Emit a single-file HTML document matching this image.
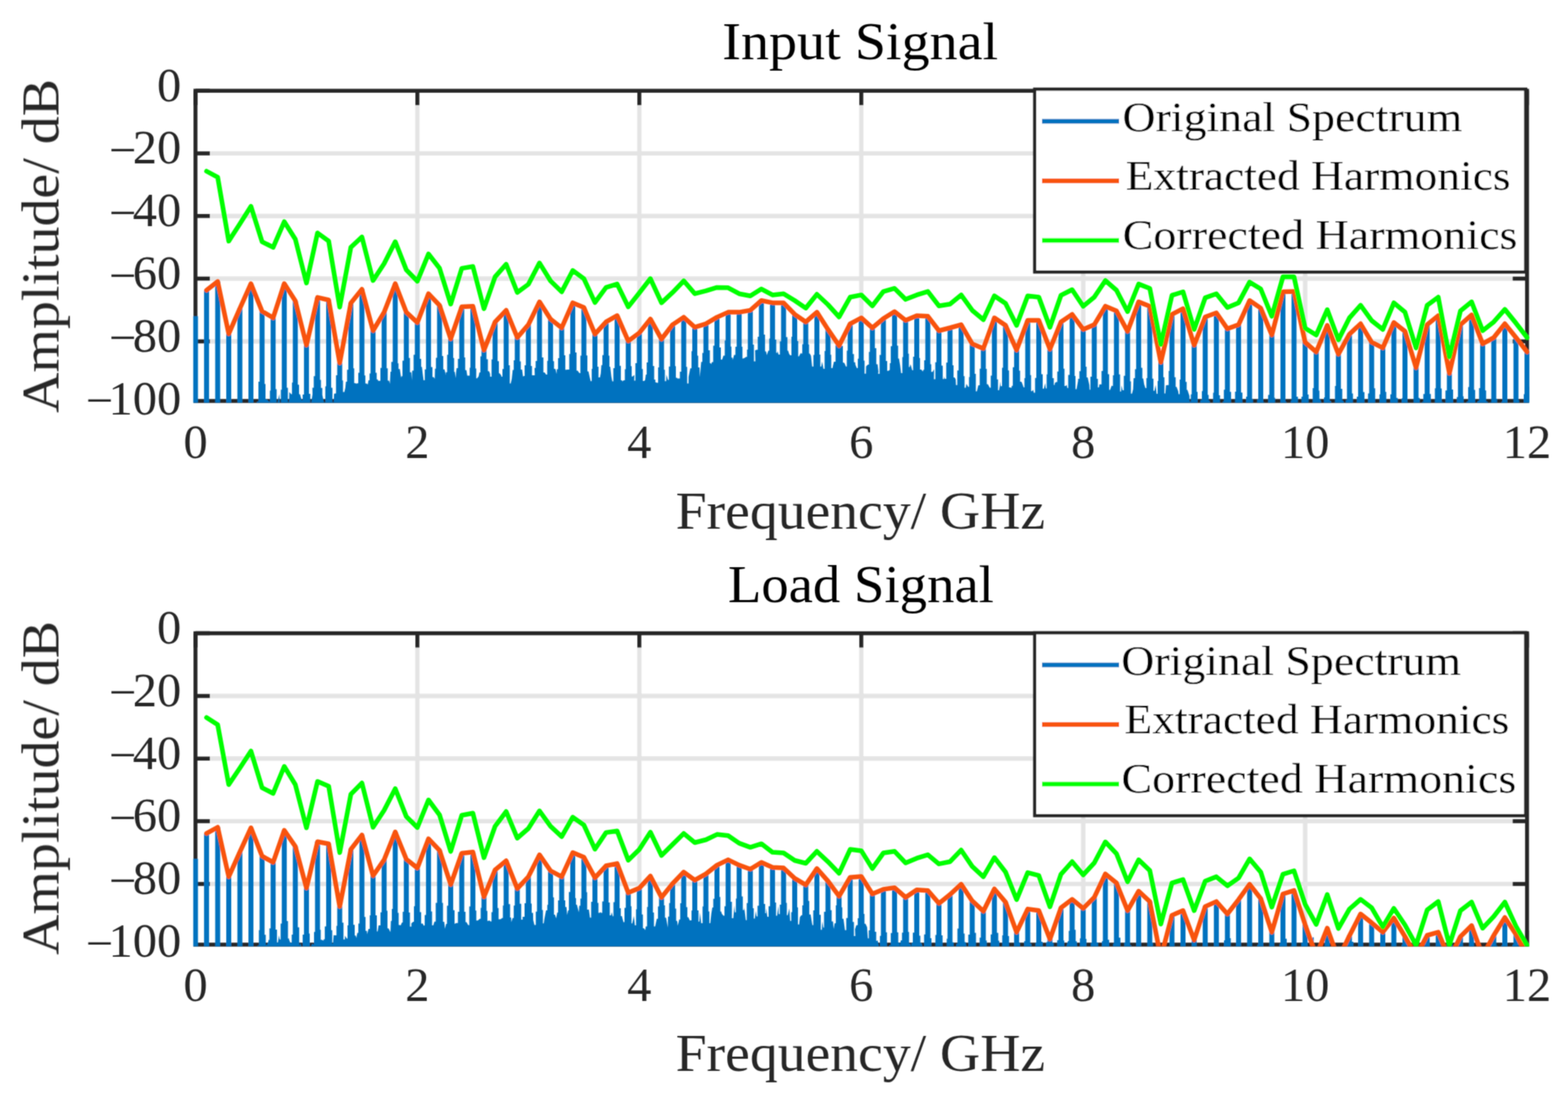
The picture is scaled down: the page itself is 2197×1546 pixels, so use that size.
<!DOCTYPE html>
<html><head><meta charset="utf-8"><title>Input Signal / Load Signal</title><style>html,body{margin:0;padding:0;background:#fff;width:2197px;height:1546px;overflow:hidden}
svg{display:block}
text{font-family:"Liberation Serif","DejaVu Serif",serif}
.tk{font-size:68px;fill:#262626}
.ti{font-size:74.4px;fill:#000}
.xl,.yl{font-size:74.2px;fill:#262626}
.lg{font-size:60px;fill:#000}
</style></head><body>
<svg width="2197" height="1546" viewBox="0 0 2197 1546">
<rect width="2197" height="1546" fill="#fff"/>
<defs>
<filter id="soft" filterUnits="userSpaceOnUse" x="0" y="0" width="2197" height="1546"><feConvolveMatrix order="3" kernelMatrix="0.0439 0.1217 0.0439 0.1217 0.3377 0.1217 0.0439 0.1217 0.0439" edgeMode="duplicate"/></filter>
<clipPath id="c0"><rect x="270.6" y="127.2" width="1872.2" height="437.3"/></clipPath>
<clipPath id="c1"><rect x="270.6" y="887.6" width="1872.2" height="438.9"/></clipPath>
</defs>
<g filter="url(#soft)">
<path d="M584.8,127.2V562M895.8,127.2V562M1206.8,127.2V562M1517.7,127.2V562M1828.7,127.2V562M273.9,215H2139.6M273.9,302.8H2139.6M273.9,390.6H2139.6M273.9,478.4H2139.6" stroke="#262626" stroke-opacity="0.13" stroke-width="6" fill="none"/>
<path d="M273.9,562v-20M273.9,127.2v20M584.8,562v-20M584.8,127.2v20M895.8,562v-20M895.8,127.2v20M1206.8,562v-20M1206.8,127.2v20M1517.7,562v-20M1517.7,127.2v20M1828.7,562v-20M1828.7,127.2v20M2139.6,562v-20M2139.6,127.2v20M273.9,127.2h20M2139.6,127.2h-20M273.9,215h20M2139.6,215h-20M273.9,302.8h20M2139.6,302.8h-20M273.9,390.6h20M2139.6,390.6h-20M273.9,478.4h20M2139.6,478.4h-20" stroke="#262626" stroke-width="5.5" fill="none"/>
<rect x="273.9" y="127.2" width="1865.7" height="434.8" stroke="#262626" stroke-width="5.5" fill="none"/>
<g clip-path="url(#c0)">
<path d="M270.4,565 270.4,443.3 277.4,443.3 277.4,565 279,565 280.2,565 282.6,565 283.6,565 284.9,565 285.9,565 285.9,406.8 292.9,406.8 292.9,565 294.7,565 296.6,565 296.2,565 298.8,565 300.5,565 301.5,565 301.5,394.6 308.5,394.6 308.5,565 310.5,565 311.9,565 312.1,565 314.8,565 315.9,565 317,565 317,467.9 324,467.9 324,565 326,565 327.9,565 328.3,565 330,565 331.3,565 332.6,565 332.6,432.3 339.6,432.3 339.6,565 341.6,565 342.9,565 343.4,565 345.1,565 346.5,565 348.1,565 348.1,397.6 355.1,397.6 355.1,565 356.2,565 357.5,565 359.5,565 360.1,563 362.1,563 362.1,535.1 363.7,535.1 363.7,436.3 370.7,436.3 370.7,538.2 372,538.2 372,559.6 373.2,559.6 376.1,561.8 376.9,563 378.2,563 378.2,547.6 379.2,547.6 379.2,445.5 386.2,445.5 386.2,545.6 387.6,545.6 387.6,564.2 388.9,564.2 391.3,552.3 392.1,565 393.5,565 393.5,546.3 394.8,546.3 394.8,397.6 401.8,397.6 401.8,543.6 403.4,543.6 403.4,563.3 405,563.3 405.4,549.4 408.1,552.5 409.1,552.5 409.1,536.3 410.3,536.3 410.3,421.8 417.3,421.8 417.3,539.2 419,539.2 419,552.6 420.3,552.6 422.5,560.3 422.6,561.1 424.1,561.1 424.1,552.9 425.9,552.9 425.9,483.7 432.9,483.7 432.9,552 434.8,552 434.8,565 436,565 437.9,552.5 437.7,543.4 439.6,543.4 439.6,527.3 441.4,527.3 441.4,416.9 448.4,416.9 448.4,532.5 449.7,532.5 449.7,543.7 451.6,543.7 451.6,553.5 453.9,563.7 455.8,563.7 455.8,541.4 457,541.4 457,420.5 464,420.5 464,543.6 465.8,543.6 465.8,563.5 467.6,563.5 468.1,551.9 469.6,551.5 470.8,551.5 470.8,526.1 472.5,526.1 472.5,508.7 479.5,508.7 479.5,533.2 480.6,533.2 480.6,549.4 482.5,549.4 483.9,543.5 484.7,534.9 486.3,534.9 486.3,518.3 488.1,518.3 488.1,424.8 495.1,424.8 495.1,516.2 496.3,516.2 496.3,537.1 497.3,537.1 499.5,537.7 500.5,537.3 502,537.3 502,522.6 503.6,522.6 503.6,405.5 510.6,405.5 510.6,526.3 511.9,526.3 511.9,537.5 513.7,537.5 515.2,539 516.4,533 517.8,533 517.8,523.5 519.2,523.5 519.2,463.5 526.2,463.5 526.2,522.5 527.8,522.5 527.8,531.7 529.2,531.7 529.8,533.8 531.3,533.7 533,533.7 533,515.8 534.7,515.8 534.7,437.6 541.7,437.6 541.7,516.2 543.3,516.2 543.3,533.4 545.2,533.4 546.3,538.1 547.1,520.9 548.3,520.9 548.3,507.3 550.3,507.3 550.3,397.6 557.3,397.6 557.3,509.3 558.4,509.3 558.4,517.2 560.2,517.2 562,529.6 562.6,527.2 563.9,527.2 563.9,505.4 565.8,505.4 565.8,437.6 572.8,437.6 572.8,501.7 574.4,501.7 574.4,521.7 576.3,521.7 577.2,533 577.5,519.5 579.5,519.5 579.5,497.2 581.3,497.2 581.3,452.1 588.3,452.1 588.3,502.9 590.1,502.9 590.1,514.2 591.2,514.2 592.3,524.1 593.5,533 595.2,533 595.2,517.8 596.9,517.8 596.9,411.7 603.9,411.7 603.9,514.5 605.9,514.5 605.9,528.6 607.7,528.6 609.2,531.1 609.5,516.7 610.8,516.7 610.8,501.6 612.4,501.6 612.4,427.9 619.4,427.9 619.4,499.1 621.1,499.1 621.1,517.7 622.8,517.7 624.8,526.1 624.6,521.7 626.5,521.7 626.5,497.3 628,497.3 628,474.9 635,474.9 635,501.7 636.3,501.7 636.3,521.3 637.4,521.3 638.4,529.9 639.7,516.1 641.6,516.1 641.6,503 643.5,503 643.5,430.1 650.5,430.1 650.5,501.1 651.8,501.1 651.8,518.8 653.5,518.8 654.7,526.6 656.9,526.6 658.1,526.6 658.1,515.5 659.1,515.5 659.1,429.2 666.1,429.2 666.1,516.5 667.3,516.5 667.3,530.2 668.6,530.2 670.6,527.5 671.8,522 673.1,522 673.1,499.6 674.6,499.6 674.6,490.7 681.6,490.7 681.6,503.5 683.6,503.5 683.6,520.3 685.2,520.3 686.6,523.7 686.8,527.9 688.7,527.9 688.7,503.7 690.2,503.7 690.2,451.2 697.2,451.2 697.2,506.2 699,506.2 699,523.2 700.1,523.2 702.6,526.7 702.4,528.1 704,528.1 704,517.2 705.7,517.2 705.7,434.9 712.7,434.9 712.7,511.9 714.3,511.9 714.3,537.6 715.6,537.6 717.1,530.9 718.4,518.6 719.8,518.6 719.8,505 721.3,505 721.3,473.1 728.3,473.1 728.3,506.5 729.7,506.5 729.7,517.9 731.5,517.9 732.9,528.2 733.6,527 735.1,527 735.1,512.1 736.8,512.1 736.8,455.1 743.8,455.1 743.8,512.9 745.4,512.9 745.4,525.9 747.3,525.9 749.3,526 749,515.7 750.5,515.7 750.5,506.1 752.4,506.1 752.4,423.1 759.4,423.1 759.4,501 761.4,501 761.4,521.9 762.7,521.9 763.7,522.7 765.1,525 766.7,525 766.7,505.7 767.9,505.7 767.9,447.2 774.9,447.2 774.9,506.3 776.3,506.3 776.3,516.9 778.2,516.9 780.1,524.2 780.1,517.5 781.9,517.5 781.9,502 783.5,502 783.5,459.5 790.5,459.5 790.5,498 792.1,498 792.1,518.2 793.7,518.2 795.1,518.1 796,518 797.6,518 797.6,496.2 799,496.2 799,424.4 806,424.4 806,494.1 807.8,494.1 807.8,519.5 809.4,519.5 810.8,521.5 811.9,522.9 813.2,522.9 813.2,498.6 814.6,498.6 814.6,431 821.6,431 821.6,498.3 823,498.3 823,520.4 824.5,520.4 826.4,529.2 827.6,534.3 829.1,534.3 829.1,516.9 830.1,516.9 830.1,468.3 837.1,468.3 837.1,514 838.6,514 838.6,529.1 840.6,529.1 841.8,523.3 842.6,511.8 844,511.8 844,497.8 845.7,497.8 845.7,451.2 852.7,451.2 852.7,498.4 853.9,498.4 853.9,513.9 855,513.9 856.6,527.7 857.9,534.6 859.4,534.6 859.4,516 861.2,516 861.2,442.4 868.2,442.4 868.2,512.7 869.9,512.7 869.9,533 871.7,533 871.8,534.7 873.9,533.1 875.5,533.1 875.5,517.5 876.8,517.5 876.8,478 883.8,478 883.8,513.2 885.1,513.2 885.1,527.8 886.3,527.8 888.9,525.5 888.6,533.6 890.3,533.6 890.3,508.9 892.3,508.9 892.3,466.5 899.3,466.5 899.3,517.2 900.7,517.2 900.7,534 902.5,534 903.9,532.8 904.9,524.9 906.1,524.9 906.1,508 907.8,508 907.8,447.2 914.8,447.2 914.8,513.1 916.6,513.1 916.6,532.1 918.2,532.1 918.3,535.7 920.6,536.5 922.1,536.5 922.1,515 923.4,515 923.4,475.3 930.4,475.3 930.4,518.3 931.6,518.3 931.6,534.3 933.4,534.3 933.7,525.1 935.9,532.5 937.2,532.5 937.2,513.7 938.9,513.7 938.9,455.1 945.9,455.1 945.9,513.3 947,513.3 947,529.6 948.6,529.6 949.1,530.5 951.4,530.6 952.6,530.6 952.6,520.9 954.5,520.9 954.5,444.6 961.5,444.6 961.5,514.2 962.8,514.2 962.8,537.5 964.7,537.5 964.8,528.3 967.2,516.2 968.9,516.2 968.9,492.3 970,492.3 970,458.6 977,458.6 977,498.5 978.3,498.5 978.3,514.9 980.1,514.9 980.6,528.4 982.5,507.3 984.1,507.3 984.1,494.7 985.6,494.7 985.6,453.8 992.6,453.8 992.6,491 994.6,491 994.6,509.1 995.6,509.1 996.4,510.6 997.5,507.6 999.3,507.6 999.3,484.5 1001.1,484.5 1001.1,444.6 1008.1,444.6 1008.1,486.9 1010,486.9 1010,504 1011.8,504 1011.2,506 1013.6,498.4 1015.5,498.4 1015.5,477.3 1016.7,477.3 1016.7,437.6 1023.7,437.6 1023.7,485.8 1024.8,485.8 1024.8,501.3 1026.3,501.3 1026.8,504.5 1028.5,497.5 1030.4,497.5 1030.4,486.1 1032.2,486.1 1032.2,437.6 1039.2,437.6 1039.2,486.1 1040.3,486.1 1040.3,502.5 1041.4,502.5 1044.1,501.3 1045.1,500.2 1046.7,500.2 1046.7,490.1 1047.8,490.1 1047.8,434.9 1054.8,434.9 1054.8,483 1056.4,483 1056.4,506.5 1058.4,506.5 1058,491.1 1060.4,490.2 1061.7,490.2 1061.7,472.1 1063.3,472.1 1063.3,421.3 1070.3,421.3 1070.3,469.1 1071.9,469.1 1071.9,492.4 1073.4,492.4 1074.4,497.7 1076.5,491.5 1077.8,491.5 1077.8,474.5 1078.9,474.5 1078.9,424.4 1085.9,424.4 1085.9,476.1 1087.6,476.1 1087.6,494.6 1089.3,494.6 1089.5,491.8 1090.9,497 1092.7,497 1092.7,478.5 1094.4,478.5 1094.4,424.4 1101.4,424.4 1101.4,472.4 1103.3,472.4 1103.3,491.4 1104.3,491.4 1105.6,495.8 1107.1,498.1 1108.9,498.1 1108.9,472 1110,472 1110,440.6 1117,440.6 1117,478.1 1118.4,478.1 1118.4,499.5 1119.5,499.5 1122.2,494.3 1122.4,495.4 1124.1,495.4 1124.1,482.6 1125.5,482.6 1125.5,451.2 1132.5,451.2 1132.5,482.7 1133.6,482.7 1133.6,495.4 1134.6,495.4 1136.3,498.7 1137.9,513.8 1139.7,513.8 1139.7,497.4 1141.1,497.4 1141.1,437.6 1148.1,437.6 1148.1,497 1149.4,497 1149.4,513.7 1150.8,513.7 1151.9,506.8 1153.8,516.9 1155.4,516.9 1155.4,492 1156.6,492 1156.6,461.7 1163.6,461.7 1163.6,497.2 1164.7,497.2 1164.7,516.1 1166.4,516.1 1168.4,507.3 1168.7,507 1170.7,507 1170.7,483.5 1172.2,483.5 1172.2,484.5 1179.2,484.5 1179.2,484.8 1181,484.8 1181,508.3 1182.3,508.3 1183.5,509.6 1185.2,513.8 1186.5,513.8 1186.5,491.4 1187.7,491.4 1187.7,453.8 1194.7,453.8 1194.7,496.3 1196.5,496.3 1196.5,507.7 1198.2,507.7 1198.6,511.5 1200.6,516.1 1201.9,516.1 1201.9,502.7 1203.2,502.7 1203.2,445.5 1210.2,445.5 1210.2,505.5 1211.4,505.5 1211.4,523.8 1213.3,523.8 1213.5,513.4 1216.1,511.1 1217.5,511.1 1217.5,493.3 1218.8,493.3 1218.8,459.5 1225.8,459.5 1225.8,488 1227.8,488 1227.8,510.6 1229.6,510.6 1230.8,520.5 1230.5,524.1 1232.4,524.1 1232.4,497.4 1234.3,497.4 1234.3,446.4 1241.3,446.4 1241.3,505.9 1243.1,505.9 1243.1,519.7 1244.8,519.7 1246.7,518.4 1246.8,508.9 1248.1,508.9 1248.1,485.2 1249.9,485.2 1249.9,436.7 1256.9,436.7 1256.9,484.4 1258.4,484.4 1258.4,502.5 1259.6,502.5 1261.3,512.4 1262.6,523.1 1264.3,523.1 1264.3,500.6 1265.4,500.6 1265.4,449 1272.4,449 1272.4,495.8 1273.5,495.8 1273.5,514.4 1274.6,514.4 1275.8,510.4 1278.2,519.1 1279.4,519.1 1279.4,500 1281,500 1281,442.4 1288,442.4 1288,501.7 1289.1,501.7 1289.1,518.1 1290.9,518.1 1293.1,520.7 1293.7,518.2 1294.9,518.2 1294.9,504.9 1296.5,504.9 1296.5,443.3 1303.5,443.3 1303.5,510.5 1304.8,510.5 1304.8,521.3 1306.7,521.3 1308.8,517.5 1308.6,531.5 1310.5,531.5 1310.5,507.8 1312.1,507.8 1312.1,463.5 1319.1,463.5 1319.1,512.5 1320.9,512.5 1320.9,531.2 1322.6,531.2 1322.8,527.5 1323.8,531.1 1325.8,531.1 1325.8,508.2 1327.6,508.2 1327.6,459.5 1334.6,459.5 1334.6,512 1336.1,512 1336.1,529 1337.5,529 1339.1,531.7 1339.5,539.8 1341.3,539.8 1341.3,519.2 1343.2,519.2 1343.2,455.1 1350.2,455.1 1350.2,527.2 1351.5,527.2 1351.5,543.5 1353.2,543.5 1354,538 1356.6,542.3 1357.7,542.3 1357.7,528.6 1358.7,528.6 1358.7,481.9 1365.7,481.9 1365.7,523.9 1367.3,523.9 1367.3,548.4 1368.8,548.4 1370.8,539.9 1371.2,539.9 1372.7,539.9 1372.7,516.7 1374.3,516.7 1374.3,488.5 1381.3,488.5 1381.3,516.9 1382.6,516.9 1382.6,538.4 1384.1,538.4 1386.7,543.2 1386.7,543.5 1388.2,543.5 1388.2,526.6 1389.8,526.6 1389.8,445.5 1396.8,445.5 1396.8,531.8 1398.4,531.8 1398.4,547.1 1399.8,547.1 1402,534.6 1402,541.2 1404,541.2 1404,515.6 1405.4,515.6 1405.4,456 1412.4,456 1412.4,519.2 1413.8,519.2 1413.8,543 1415.2,543 1417.2,543.7 1417.7,540.7 1419.1,540.7 1419.1,514.7 1420.9,514.7 1420.9,490.7 1427.9,490.7 1427.9,519.6 1429.3,519.6 1429.3,535.1 1430.7,535.1 1431.6,535.7 1434.3,543 1435.4,543 1435.4,530.1 1436.5,530.1 1436.5,449 1443.5,449 1443.5,525.7 1444.7,525.7 1444.7,548.2 1446.2,548.2 1447.6,546.2 1448.6,550.4 1450.3,550.4 1450.3,529.7 1452,529.7 1452,449 1459,449 1459,524.4 1461,524.4 1461,544.8 1462.7,544.8 1464.4,537 1465.3,544.6 1466.5,544.6 1466.5,524.8 1467.6,524.8 1467.6,489.4 1474.6,489.4 1474.6,530.1 1476.5,530.1 1476.5,539.5 1477.9,539.5 1477.8,537.2 1479.5,535.4 1481.4,535.4 1481.4,520.8 1483.1,520.8 1483.1,451.2 1490.1,451.2 1490.1,516.8 1491.5,516.8 1491.5,541.1 1493.4,541.1 1494.5,539.3 1495.6,544 1496.7,544 1496.7,525.6 1498.7,525.6 1498.7,440.6 1505.7,440.6 1505.7,527 1506.9,527 1506.9,545.6 1508.4,545.6 1510.6,533.6 1510.5,531 1512.4,531 1512.4,520.2 1514.2,520.2 1514.2,461.7 1521.2,461.7 1521.2,514 1522.5,514 1522.5,529 1524,529 1526.3,539.6 1526.7,546.2 1527.8,546.2 1527.8,528 1529.7,528 1529.7,455.1 1536.7,455.1 1536.7,531.1 1538.3,531.1 1538.3,543.1 1539.7,543.1 1540.5,538.6 1541.4,538.8 1543.4,538.8 1543.4,520.1 1545.3,520.1 1545.3,429.2 1552.3,429.2 1552.3,524.6 1554.1,524.6 1554.1,546.4 1555.4,546.4 1557.7,540.3 1558.3,541 1559.4,541 1559.4,526 1560.8,526 1560.8,435.8 1567.8,435.8 1567.8,524.8 1569.4,524.8 1569.4,548.8 1570.8,548.8 1571.5,540.3 1572.8,546.9 1574.6,546.9 1574.6,526.7 1576.4,526.7 1576.4,464.4 1583.4,464.4 1583.4,534.4 1584.6,534.4 1584.6,551.7 1586.1,551.7 1587.7,545.4 1588.4,530.1 1590.3,530.1 1590.3,517.6 1591.9,517.6 1591.9,423.1 1598.9,423.1 1598.9,515.4 1600.6,515.4 1600.6,530.4 1601.9,530.4 1603.1,538.6 1604.9,544.1 1606.3,544.1 1606.3,529.9 1607.5,529.9 1607.5,429.2 1614.5,429.2 1614.5,530.8 1616.2,530.8 1616.2,547.7 1617.7,547.7 1619.2,539.5 1620.6,552.1 1622,552.1 1622,533.9 1623,533.9 1623,507.8 1630,507.8 1630,528.8 1631.5,528.8 1631.5,551.4 1632.9,551.4 1633.7,539.9 1636.3,539.8 1637.5,539.8 1637.5,519.9 1638.6,519.9 1638.6,440.6 1645.6,440.6 1645.6,528.8 1647.3,528.8 1647.3,542.2 1648.5,542.2 1650.8,548.3 1651.4,552.6 1652.9,552.6 1652.9,532.1 1654.1,532.1 1654.1,432.7 1661.1,432.7 1661.1,535.2 1662.7,535.2 1662.7,546.5 1663.8,546.5 1666.6,555.1 1666.8,562.9 1668.5,562.9 1668.5,552.7 1669.7,552.7 1669.7,483.7 1676.7,483.7 1676.7,549.2 1678,549.2 1678,565 1679.1,565 1681.4,565 1682.2,560.8 1684,560.8 1684,548.3 1685.2,548.3 1685.2,444.2 1692.2,444.2 1692.2,553.6 1693.5,553.6 1693.5,561.4 1694.8,561.4 1695.6,565 1698.7,565 1699.7,565 1699.7,550.4 1700.8,550.4 1700.8,438.5 1707.8,438.5 1707.8,554 1709.4,554 1709.4,565 1710.7,565 1713.1,565 1713.5,562.4 1714.8,562.4 1714.8,546.2 1716.3,546.2 1716.3,460.8 1723.3,460.8 1723.3,549.3 1724.9,549.3 1724.9,565 1726.8,565 1727.9,565 1728.8,565 1730.5,565 1730.5,549 1731.9,549 1731.9,455.1 1738.9,455.1 1738.9,550.2 1740.8,550.2 1740.8,565 1742.4,565 1743.2,565 1744.8,565 1745.9,565 1745.9,555.9 1747.4,555.9 1747.4,421.3 1754.4,421.3 1754.4,559.8 1755.7,559.8 1755.7,565 1756.9,565 1758.5,565 1760,565 1761.4,565 1761.4,560 1763,560 1763,431.9 1770,431.9 1770,563.6 1771.5,563.6 1771.5,565 1773.3,565 1773.1,565 1775.1,565 1776.8,565 1776.8,553.6 1778.5,553.6 1778.5,469.6 1785.5,469.6 1785.5,557.4 1786.6,557.4 1786.6,565 1788.5,565 1790.6,565 1791,565 1792.8,565 1792.8,564.9 1794.1,564.9 1794.1,409 1801.1,409 1801.1,562.9 1802.4,562.9 1802.4,565 1803.9,565 1804.8,565 1806.9,565 1808.5,565 1808.5,561.4 1809.6,561.4 1809.6,408.6 1816.6,408.6 1816.6,555.9 1818.6,555.9 1818.6,565 1820.5,565 1821,565 1822.1,565 1823.5,565 1823.5,556.1 1825.2,556.1 1825.2,479.7 1832.2,479.7 1832.2,553 1833.6,553 1833.6,565 1835.5,565 1835.4,565 1837.7,565 1839.3,565 1839.3,544 1840.7,544 1840.7,493.3 1847.7,493.3 1847.7,547.4 1848.7,547.4 1848.7,559.6 1849.9,559.6 1851.6,565 1853.6,565 1855.1,565 1855.1,557.1 1856.2,557.1 1856.2,456 1863.2,456 1863.2,561.9 1865,561.9 1865,565 1866.9,565 1868.7,564.8 1870.5,564.8 1870.5,541.1 1871.8,541.1 1871.8,496.4 1878.8,496.4 1878.8,544.9 1880.7,544.9 1880.7,561.6 1882,561.6 1883.4,565 1884.1,565 1885.5,565 1885.5,560.7 1887.3,560.7 1887.3,468.3 1894.3,468.3 1894.3,551.5 1895.7,551.5 1895.7,565 1897,565 1899.1,565 1899.6,565 1901.1,565 1901.1,555.9 1902.9,555.9 1902.9,453.8 1909.9,453.8 1909.9,549.6 1911.8,549.6 1911.8,565 1913,565 1913.8,565 1915.3,565 1916.8,565 1916.8,551.4 1918.4,551.4 1918.4,479.7 1925.4,479.7 1925.4,544.2 1926.8,544.2 1926.8,565 1928.7,565 1928.7,565 1931.1,565 1932.8,565 1932.8,552.7 1934,552.7 1934,487.6 1941,487.6 1941,549.2 1942.4,549.2 1942.4,565 1943.9,565 1945.8,565 1946.3,565 1948,565 1948,552.7 1949.5,552.7 1949.5,452.1 1956.5,452.1 1956.5,557.8 1958.5,557.8 1958.5,565 1960.3,565 1959.9,565 1962.6,565 1963.9,565 1963.9,558.3 1965.1,558.3 1965.1,464.4 1972.1,464.4 1972.1,564 1973.7,564 1973.7,565 1975.5,565 1977.5,565 1978.2,565 1979.3,565 1979.3,564.9 1980.6,564.9 1980.6,515.3 1987.6,515.3 1987.6,557.8 1989.3,557.8 1989.3,565 1991,565 1991.6,565 1992.7,563.3 1994.3,563.3 1994.3,552.2 1996.2,552.2 1996.2,455.1 2003.2,455.1 2003.2,552.3 2004.8,552.3 2004.8,565 2006.2,565 2008.5,565 2008.7,565 2010.5,565 2010.5,544.3 2011.7,544.3 2011.7,442.4 2018.7,442.4 2018.7,544.5 2020.1,544.5 2020.1,563.6 2021.9,563.6 2023.5,565 2023.6,565 2025.3,565 2025.3,547.2 2027.3,547.2 2027.3,523.2 2034.3,523.2 2034.3,546 2036,546 2036,565 2037.2,565 2038.7,565 2039.8,565 2041.2,565 2041.2,556.5 2042.8,556.5 2042.8,455.1 2049.8,455.1 2049.8,555.4 2050.8,555.4 2050.8,565 2052.8,565 2053.9,565 2055.8,562.4 2057.1,562.4 2057.1,542.4 2058.4,542.4 2058.4,441.5 2065.4,441.5 2065.4,546.6 2066.9,546.6 2066.9,565 2068.3,565 2068.8,565 2071,561.7 2072.4,561.7 2072.4,543.9 2073.9,543.9 2073.9,481.9 2080.9,481.9 2080.9,547.3 2082.3,547.3 2082.3,562.5 2083.4,562.5 2085.9,565 2086,565 2087.9,565 2087.9,563.8 2089.5,563.8 2089.5,473.1 2096.5,473.1 2096.5,559.2 2097.7,559.2 2097.7,565 2099.1,565 2099.9,565 2102.3,565 2103.7,565 2103.7,562.9 2105,562.9 2105,453.8 2112,453.8 2112,565 2113.5,565 2114.7,565 2116.5,565 2117.3,565 2119.1,565 2120.6,565 2120.6,473.1 2127.6,473.1 2127.6,561 2128.6,561 2128.6,565 2130.4,565 2131.5,565 2133.3,565 2135,565 2135,552.4 2136.1,552.4 2136.1,493.3 2143.1,493.3 2143.1,565Z" fill="#0072BF"/>
<path d="M289.4,406.8 305,394.6 320.5,467.9 336.1,432.3 351.6,397.6 367.2,436.3 382.7,445.5 398.3,397.6 413.8,421.8 429.4,483.7 444.9,416.9 460.5,420.5 476,508.7 491.6,424.8 507.1,405.5 522.7,463.5 538.2,437.6 553.8,397.6 569.3,437.6 584.8,452.1 600.4,411.7 615.9,427.9 631.5,474.9 647,430.1 662.6,429.2 678.1,490.7 693.7,451.2 709.2,434.9 724.8,473.1 740.3,455.1 755.9,423.1 771.4,447.2 787,459.5 802.5,424.4 818.1,431 833.6,468.3 849.2,451.2 864.7,442.4 880.3,478 895.8,466.5 911.3,447.2 926.9,475.3 942.4,455.1 958,444.6 973.5,458.6 989.1,453.8 1004.6,444.6 1020.2,437.6 1035.7,437.6 1051.3,434.9 1066.8,421.3 1082.4,424.4 1097.9,424.4 1113.5,440.6 1129,451.2 1144.6,437.6 1160.1,461.7 1175.7,484.5 1191.2,453.8 1206.8,445.5 1222.3,459.5 1237.8,446.4 1253.4,436.7 1268.9,449 1284.5,442.4 1300,443.3 1315.6,463.5 1331.1,459.5 1346.7,455.1 1362.2,481.9 1377.8,488.5 1393.3,445.5 1408.9,456 1424.4,490.7 1440,449 1455.5,449 1471.1,489.4 1486.6,451.2 1502.2,440.6 1517.7,461.7 1533.2,455.1 1548.8,429.2 1564.3,435.8 1579.9,464.4 1595.4,423.1 1611,429.2 1626.5,507.8 1642.1,440.6 1657.6,432.7 1673.2,483.7 1688.7,444.2 1704.3,438.5 1719.8,460.8 1735.4,455.1 1750.9,421.3 1766.5,431.9 1782,469.6 1797.6,409 1813.1,408.6 1828.7,479.7 1844.2,493.3 1859.7,456 1875.3,496.4 1890.8,468.3 1906.4,453.8 1921.9,479.7 1937.5,487.6 1953,452.1 1968.6,464.4 1984.1,515.3 1999.7,455.1 2015.2,442.4 2030.8,523.2 2046.3,455.1 2061.9,441.5 2077.4,481.9 2093,473.1 2108.5,453.8 2124.1,473.1 2139.6,493.3" fill="none" stroke="#F8530E" stroke-width="6.5" stroke-linejoin="round" stroke-linecap="round"/>
<path d="M289.4,240 305,248.4 320.5,337.9 336.1,313.8 351.6,289.2 367.2,338.8 382.7,346.7 398.3,310.7 413.8,335.3 429.4,396.7 444.9,326.5 460.5,337.9 476,430.5 491.6,346.7 507.1,332.2 522.7,393.2 538.2,369.5 553.8,338.8 569.3,378.3 584.8,394.1 600.4,355.9 615.9,376.1 631.5,426.2 647,376.1 662.6,373.5 678.1,432.7 693.7,388 709.2,370.4 724.8,409.9 740.3,398.5 755.9,368.6 771.4,393.7 787,409 802.5,379.2 818.1,390.6 833.6,424 849.2,402.9 864.7,398.1 880.3,430.1 895.8,410.4 911.3,390.6 926.9,424.4 942.4,409.9 958,393.7 973.5,411.7 989.1,407.7 1004.6,402.9 1020.2,403.3 1035.7,411.7 1051.3,414.7 1066.8,405.1 1082.4,413.4 1097.9,411.7 1113.5,421.3 1129,431.9 1144.6,412.5 1160.1,427 1175.7,444.2 1191.2,416.5 1206.8,413.4 1222.3,428.8 1237.8,408.6 1253.4,404.2 1268.9,419.6 1284.5,413.4 1300,408.6 1315.6,428.8 1331.1,426.2 1346.7,413.4 1362.2,434.9 1377.8,448.1 1393.3,414.7 1408.9,425.3 1424.4,456 1440,414.7 1455.5,416.5 1471.1,458.6 1486.6,413.9 1502.2,406 1517.7,429.2 1533.2,416.5 1548.8,393.2 1564.3,406.8 1579.9,436.7 1595.4,398.1 1611,404.2 1626.5,482.8 1642.1,413.9 1657.6,409 1673.2,461.7 1688.7,417.4 1704.3,411.7 1719.8,431 1735.4,424.4 1750.9,395.4 1766.5,405.1 1782,443.3 1797.6,388 1813.1,388 1828.7,460 1844.2,469.6 1859.7,434.1 1875.3,476.2 1890.8,445.5 1906.4,427.9 1921.9,449.4 1937.5,461.7 1953,424.4 1968.6,437.6 1984.1,487.6 1999.7,427.9 2015.2,416.5 2030.8,500.3 2046.3,435.8 2061.9,423.1 2077.4,463.5 2093,451.2 2108.5,433.6 2124.1,452.9 2139.6,473.1" fill="none" stroke="#00FF00" stroke-width="6.5" stroke-linejoin="round" stroke-linecap="round"/>
</g>
<text x="254" y="141.5" text-anchor="end" class="tk">0</text>
<text x="254" y="229.3" text-anchor="end" class="tk"><tspan dy="3.5">−</tspan><tspan dx="-5.2" dy="-3.5">20</tspan></text>
<text x="254" y="317.2" text-anchor="end" class="tk"><tspan dy="3.5">−</tspan><tspan dx="-5.2" dy="-3.5">40</tspan></text>
<text x="254" y="405" text-anchor="end" class="tk"><tspan dy="3.5">−</tspan><tspan dx="-5.2" dy="-3.5">60</tspan></text>
<text x="254" y="492.9" text-anchor="end" class="tk"><tspan dy="3.5">−</tspan><tspan dx="-5.2" dy="-3.5">80</tspan></text>
<text x="254" y="580.7" text-anchor="end" class="tk"><tspan dy="3.5">−</tspan><tspan dx="-6.5" dy="-3.5">100</tspan></text>
<text x="273.9" y="642.3" text-anchor="middle" class="tk">0</text>
<text x="584.8" y="642.3" text-anchor="middle" class="tk">2</text>
<text x="895.8" y="642.3" text-anchor="middle" class="tk">4</text>
<text x="1206.8" y="642.3" text-anchor="middle" class="tk">6</text>
<text x="1517.7" y="642.3" text-anchor="middle" class="tk">8</text>
<text x="1828.7" y="642.3" text-anchor="middle" class="tk">10</text>
<text x="2139.6" y="642.3" text-anchor="middle" class="tk">12</text>
<rect x="1449.8" y="125" width="687.9" height="256.2" fill="#fff" stroke="#262626" stroke-width="4.5"/>
<path d="M1460,170H1568" stroke="#0072BF" stroke-width="6.5"/>
<path d="M1460,253.4H1568" stroke="#F8530E" stroke-width="6.5"/>
<path d="M1460,337H1568" stroke="#00FF00" stroke-width="6.5"/>
<text transform="matrix(1.0703,0,0,1,1572.8,184)" class="lg">Original Spectrum</text>
<text transform="matrix(1.0617,0,0,1,1577.2,265.8)" class="lg">Extracted Harmonics</text>
<text transform="matrix(1.0749,0,0,1,1573,348.8)" class="lg">Corrected Harmonics</text>
<text transform="matrix(1.0565,0,0,1,1012.1,83.1)" class="ti">Input Signal</text>
<text transform="matrix(1.0514,0,0,1,946.7,740.6)" class="xl">Frequency/ GHz</text>
<text transform="matrix(0,-1.0562,1,0,81.9,578.7)" class="yl">Amplitude/ dB</text>
<path d="M584.8,887.6V1324M895.8,887.6V1324M1206.8,887.6V1324M1517.7,887.6V1324M1828.7,887.6V1324M273.9,975.4H2139.6M273.9,1063.3H2139.6M273.9,1151.1H2139.6M273.9,1239H2139.6" stroke="#262626" stroke-opacity="0.13" stroke-width="6" fill="none"/>
<path d="M273.9,1324v-20M273.9,887.6v20M584.8,1324v-20M584.8,887.6v20M895.8,1324v-20M895.8,887.6v20M1206.8,1324v-20M1206.8,887.6v20M1517.7,1324v-20M1517.7,887.6v20M1828.7,1324v-20M1828.7,887.6v20M2139.6,1324v-20M2139.6,887.6v20M273.9,887.6h20M2139.6,887.6h-20M273.9,975.4h20M2139.6,975.4h-20M273.9,1063.3h20M2139.6,1063.3h-20M273.9,1151.1h20M2139.6,1151.1h-20M273.9,1239h20M2139.6,1239h-20" stroke="#262626" stroke-width="5.5" fill="none"/>
<rect x="273.9" y="887.6" width="1865.7" height="436.4" stroke="#262626" stroke-width="5.5" fill="none"/>
<g clip-path="url(#c1)">
<path d="M270.4,1327 270.4,1203.8 277.4,1203.8 277.4,1327 279.4,1327 281.2,1327 282.2,1327 284,1327 285.9,1327 285.9,1168.2 292.9,1168.2 292.9,1327 294.6,1327 296.5,1327 296.3,1327 298.1,1327 299.9,1327 301.5,1327 301.5,1159.5 308.5,1159.5 308.5,1327 309.6,1327 310.6,1327 313.1,1327 315.1,1327 317,1327 317,1228.9 324,1228.9 324,1327 325.7,1327 327.2,1327 328.4,1327 330,1327 331.1,1327 332.6,1327 332.6,1194.2 339.6,1194.2 339.6,1327 341.3,1327 342.6,1327 344.4,1327 344.8,1327 346.2,1327 348.1,1327 348.1,1160.3 355.1,1160.3 355.1,1327 356.3,1327 357.7,1327 360.3,1327 361.1,1325.2 362.7,1325.2 362.7,1303.7 363.7,1303.7 363.7,1199.9 370.7,1199.9 370.7,1310.3 372.4,1310.3 372.4,1324.5 374.3,1324.5 376.1,1319.2 376.1,1317.5 377.5,1317.5 377.5,1301.2 379.2,1301.2 379.2,1208.7 386.2,1208.7 386.2,1302.9 388.1,1302.9 388.1,1321.3 389.3,1321.3 390.9,1311 391.8,1316.8 393.2,1316.8 393.2,1294.6 394.8,1294.6 394.8,1163.9 401.8,1163.9 401.8,1291.1 403.5,1291.1 403.5,1315.4 405.4,1315.4 404.9,1316.6 406.9,1321.7 408.7,1321.7 408.7,1309.9 410.3,1309.9 410.3,1186.3 417.3,1186.3 417.3,1299.7 419.2,1299.7 419.2,1324.6 420.3,1324.6 420.9,1319.9 422.3,1327 424.1,1327 424.1,1309.9 425.9,1309.9 425.9,1244.7 432.9,1244.7 432.9,1308.4 434,1308.4 434,1327 435.6,1327 437.3,1322.7 438.7,1323.7 440,1323.7 440,1306.2 441.4,1306.2 441.4,1179.7 448.4,1179.7 448.4,1303.2 449.4,1303.2 449.4,1317.2 450.9,1317.2 453.3,1318.5 453.5,1316.5 455.1,1316.5 455.1,1298.5 457,1298.5 457,1182.7 464,1182.7 464,1303.8 465.5,1303.8 465.5,1323.1 466.5,1323.1 467.5,1310.7 469.7,1311 471.4,1311 471.4,1297.8 472.5,1297.8 472.5,1270.6 479.5,1270.6 479.5,1293.2 481.3,1293.2 481.3,1316.7 483.2,1316.7 483.5,1311.4 485.8,1315.4 486.9,1315.4 486.9,1297 488.1,1297 488.1,1190.6 495.1,1190.6 495.1,1296.3 497,1296.3 497,1311.2 498.4,1311.2 499.2,1314.8 500.7,1307.4 502.1,1307.4 502.1,1294.6 503.6,1294.6 503.6,1170.4 510.6,1170.4 510.6,1285.2 512.2,1285.2 512.2,1304.7 514.1,1304.7 514.4,1309.6 516.3,1302.1 518.1,1302.1 518.1,1283 519.2,1283 519.2,1227.5 526.2,1227.5 526.2,1283.1 528,1283.1 528,1305.5 529.1,1305.5 530.5,1297 531.7,1296.9 533.1,1296.9 533.1,1278.8 534.7,1278.8 534.7,1205.1 541.7,1205.1 541.7,1276.6 542.9,1276.6 542.9,1301.3 544.4,1301.3 547.1,1306.4 547.7,1290.8 549,1290.8 549,1273.9 550.3,1273.9 550.3,1166.1 557.3,1166.1 557.3,1279.6 558.6,1279.6 558.6,1296.4 559.7,1296.4 561.4,1297 563.2,1292.9 564.3,1292.9 564.3,1278.1 565.8,1278.1 565.8,1204.3 572.8,1204.3 572.8,1279.1 574.4,1279.1 574.4,1298.7 576.4,1298.7 576.4,1294.2 578.9,1291.9 580,1291.9 580,1270.3 581.3,1270.3 581.3,1216.6 588.3,1216.6 588.3,1278.4 590.1,1278.4 590.1,1294.5 591.4,1294.5 592.4,1294.4 593.5,1297.2 595.1,1297.2 595.1,1282.6 596.9,1282.6 596.9,1175.7 603.9,1175.7 603.9,1277.6 605.4,1277.6 605.4,1297 607.1,1297 608.8,1291.4 608.8,1291.8 610.5,1291.8 610.5,1265.4 612.4,1265.4 612.4,1192 619.4,1192 619.4,1265.5 620.7,1265.5 620.7,1291.9 622.4,1291.9 623.5,1301.7 625,1295 626.3,1295 626.3,1269.4 628,1269.4 628,1239.8 635,1239.8 635,1275.8 636.9,1275.8 636.9,1294.8 638.1,1294.8 638.1,1294 640.5,1293.7 641.6,1293.7 641.6,1278 643.5,1278 643.5,1195.9 650.5,1195.9 650.5,1278 652.3,1278 652.3,1292.4 653.7,1292.4 655.6,1295.9 656.3,1296.7 657.5,1296.7 657.5,1270.4 659.1,1270.4 659.1,1194.2 666.1,1194.2 666.1,1276.2 667.4,1276.2 667.4,1290.2 669.3,1290.2 669.7,1289.9 672.4,1287.7 673.5,1287.7 673.5,1272.5 674.6,1272.5 674.6,1257 681.6,1257 681.6,1276.7 682.9,1276.7 682.9,1290.7 684.1,1290.7 685.6,1289.9 687.2,1291.6 688.6,1291.6 688.6,1278.5 690.2,1278.5 690.2,1219.2 697.2,1219.2 697.2,1272.8 698.6,1272.8 698.6,1288.5 700.4,1288.5 702.3,1288 703.1,1286.8 704.6,1286.8 704.6,1269.3 705.7,1269.3 705.7,1206.5 712.7,1206.5 712.7,1267.2 714.7,1267.2 714.7,1285.9 716.1,1285.9 716.6,1292.4 718.2,1286.8 719.8,1286.8 719.8,1269.2 721.3,1269.2 721.3,1245.5 728.3,1245.5 728.3,1266.7 730.3,1266.7 730.3,1289.1 732.3,1289.1 732.3,1285.1 733.5,1284.9 735,1284.9 735,1265.9 736.8,1265.9 736.8,1228.9 743.8,1228.9 743.8,1266.6 745,1266.6 745,1279.5 746.9,1279.5 747.1,1289.6 748.8,1296.5 750.7,1296.5 750.7,1277.8 752.4,1277.8 752.4,1198.1 759.4,1198.1 759.4,1275.6 760.7,1275.6 760.7,1294.3 761.9,1294.3 762.7,1288.5 765.1,1276.1 766.8,1276.1 766.8,1268.3 767.9,1268.3 767.9,1220.5 774.9,1220.5 774.9,1257.7 776.2,1257.7 776.2,1282.1 777.6,1282.1 779.2,1287.3 780.8,1279 781.9,1279 781.9,1262 783.5,1262 783.5,1228.9 790.5,1228.9 790.5,1261.9 792,1261.9 792,1271.3 793.7,1271.3 794.7,1282.6 796,1275.9 797.1,1275.9 797.1,1250.2 799,1250.2 799,1195 806,1195 806,1258.8 807.1,1258.8 807.1,1268.1 808.3,1268.1 811.1,1278.8 811.6,1269.5 813.2,1269.5 813.2,1259.4 814.6,1259.4 814.6,1201.6 821.6,1201.6 821.6,1250.6 822.7,1250.6 822.7,1275 823.8,1275 825.1,1274.7 826.7,1286.3 828.3,1286.3 828.3,1264.1 830.1,1264.1 830.1,1230.2 837.1,1230.2 837.1,1265.5 838.5,1265.5 838.5,1279.5 840.3,1279.5 841.3,1278.3 842.3,1279.4 843.8,1279.4 843.8,1263.4 845.7,1263.4 845.7,1213.5 852.7,1213.5 852.7,1265 854.4,1265 854.4,1283.1 856.1,1283.1 857.1,1278.4 858.5,1284.3 859.5,1284.3 859.5,1264.4 861.2,1264.4 861.2,1210.4 868.2,1210.4 868.2,1273 869.8,1273 869.8,1283.9 871.6,1283.9 871.4,1284.5 873.6,1292.4 875,1292.4 875,1272.4 876.8,1272.4 876.8,1251.3 883.8,1251.3 883.8,1270.2 884.8,1270.2 884.8,1294.3 886,1294.3 888.1,1283.7 889.6,1296.9 891.2,1296.9 891.2,1274.6 892.3,1274.6 892.3,1244.7 899.3,1244.7 899.3,1281.7 900.8,1281.7 900.8,1300.9 902.1,1300.9 904.1,1303.8 904.8,1298.4 906.6,1298.4 906.6,1271.2 907.8,1271.2 907.8,1228 914.8,1228 914.8,1278.9 916.3,1278.9 916.3,1298.5 918,1298.5 918.2,1297.5 920.3,1287.8 921.9,1287.8 921.9,1270.4 923.4,1270.4 923.4,1257.8 930.4,1257.8 930.4,1268.9 931.7,1268.9 931.7,1286.2 933.3,1286.2 935.7,1300.1 936,1284.7 937.6,1284.7 937.6,1265.8 938.9,1265.8 938.9,1238.5 945.9,1238.5 945.9,1273.5 947.4,1273.5 947.4,1290.8 948.8,1290.8 949.6,1297.5 951.7,1288.8 953.1,1288.8 953.1,1266 954.5,1266 954.5,1222.3 961.5,1222.3 961.5,1271.5 963.1,1271.5 963.1,1285.4 964.4,1285.4 966.6,1290.3 967.3,1290.1 968.9,1290.1 968.9,1276.2 970,1276.2 970,1233.7 977,1233.7 977,1275.9 978.7,1275.9 978.7,1291.7 980,1291.7 980.8,1279 982.5,1294 984.4,1294 984.4,1270.5 985.6,1270.5 985.6,1224.9 992.6,1224.9 992.6,1277.6 993.9,1277.6 993.9,1293.9 995.2,1293.9 996.7,1280.4 998.1,1271.9 999.4,1271.9 999.4,1259.7 1001.1,1259.7 1001.1,1212.6 1008.1,1212.6 1008.1,1257.2 1009.3,1257.2 1009.3,1277.6 1010.4,1277.6 1011.4,1280.8 1013.7,1283.4 1015.1,1283.4 1015.1,1270.2 1016.7,1270.2 1016.7,1205.1 1023.7,1205.1 1023.7,1263.9 1025.5,1263.9 1025.5,1287 1027.4,1287 1029.1,1269.1 1029.8,1278.7 1031.1,1278.7 1031.1,1259.6 1032.2,1259.6 1032.2,1212.6 1039.2,1212.6 1039.2,1256.5 1040.8,1256.5 1040.8,1275.5 1042.5,1275.5 1042.8,1271.7 1045,1289.7 1046.3,1289.7 1046.3,1265.8 1047.8,1265.8 1047.8,1218.3 1054.8,1218.3 1054.8,1272.9 1056.2,1272.9 1056.2,1287.4 1057.6,1287.4 1059,1276.8 1060,1284.5 1061.4,1284.5 1061.4,1269.6 1063.3,1269.6 1063.3,1208.7 1070.3,1208.7 1070.3,1266.9 1072.1,1266.9 1072.1,1280 1073.2,1280 1073.5,1273.1 1075.2,1285.1 1076.9,1285.1 1076.9,1270.2 1078.9,1270.2 1078.9,1215.7 1085.9,1215.7 1085.9,1264.9 1087.4,1264.9 1087.4,1283.6 1088.9,1283.6 1090.6,1269.9 1091.1,1281.3 1092.6,1281.3 1092.6,1268 1094.4,1268 1094.4,1216.6 1101.4,1216.6 1101.4,1265.6 1102.5,1265.6 1102.5,1282.7 1103.7,1282.7 1106,1273.3 1107.1,1290.7 1108.6,1290.7 1108.6,1278.6 1110,1278.6 1110,1231.1 1117,1231.1 1117,1271.8 1118.1,1271.8 1118.1,1295.8 1119.7,1295.8 1120.8,1285.4 1122.9,1282.8 1124.1,1282.8 1124.1,1268.9 1125.5,1268.9 1125.5,1240.3 1132.5,1240.3 1132.5,1262.8 1133.9,1262.8 1133.9,1281.8 1135.8,1281.8 1137.5,1292.5 1138.3,1296.7 1139.5,1296.7 1139.5,1275.9 1141.1,1275.9 1141.1,1217.4 1148.1,1217.4 1148.1,1282.2 1150,1282.2 1150,1303.2 1151.5,1303.2 1152,1291.3 1153.6,1300.3 1154.6,1300.3 1154.6,1277.9 1156.6,1277.9 1156.6,1235 1163.6,1235 1163.6,1275.7 1165.3,1275.7 1165.3,1291.6 1167.2,1291.6 1168.1,1302.1 1169.5,1294 1171.1,1294 1171.1,1269.1 1172.2,1269.1 1172.2,1256.1 1179.2,1256.1 1179.2,1271.7 1180.2,1271.7 1180.2,1287.7 1181.8,1287.7 1183.8,1302.8 1183.9,1303.8 1185.7,1303.8 1185.7,1286.7 1187.7,1286.7 1187.7,1229.7 1194.7,1229.7 1194.7,1292.2 1196.5,1292.2 1196.5,1311.9 1198.4,1311.9 1198,1302.5 1199.9,1296.7 1201.8,1296.7 1201.8,1287 1203.2,1287 1203.2,1228.4 1210.2,1228.4 1210.2,1280.9 1211.3,1280.9 1211.3,1294.8 1212.7,1294.8 1214.9,1299.4 1216,1315.2 1217.3,1315.2 1217.3,1304 1218.8,1304 1218.8,1253 1225.8,1253 1225.8,1305.9 1227.7,1305.9 1227.7,1318.8 1228.8,1318.8 1229.8,1318 1231.5,1327 1232.9,1327 1232.9,1311.7 1234.3,1311.7 1234.3,1246.4 1241.3,1246.4 1241.3,1306.8 1242.8,1306.8 1242.8,1327 1244.7,1327 1244.8,1327 1246.4,1324.8 1248.1,1324.8 1248.1,1307.7 1249.9,1307.7 1249.9,1244.2 1256.9,1244.2 1256.9,1306.8 1258.6,1306.8 1258.6,1321.3 1260.6,1321.3 1260.6,1327 1262.2,1317.9 1263.8,1317.9 1263.8,1307.2 1265.4,1307.2 1265.4,1257.8 1272.4,1257.8 1272.4,1306.2 1273.7,1306.2 1273.7,1322.8 1275.4,1322.8 1277,1327 1277.2,1321.5 1279,1321.5 1279,1307.3 1281,1307.3 1281,1247.3 1288,1247.3 1288,1311.6 1289.5,1311.6 1289.5,1321.8 1291.1,1321.8 1292.8,1327 1293.6,1327 1294.8,1327 1294.8,1309.7 1296.5,1309.7 1296.5,1248.2 1303.5,1248.2 1303.5,1314.9 1305.1,1314.9 1305.1,1327 1306.6,1327 1308.4,1327 1308.7,1327 1310.6,1327 1310.6,1310.6 1312.1,1310.6 1312.1,1266.2 1319.1,1266.2 1319.1,1311.1 1320.7,1311.1 1320.7,1327 1322.7,1327 1323.7,1327 1324.9,1327 1326.5,1327 1326.5,1315.8 1327.6,1315.8 1327.6,1253.9 1334.6,1253.9 1334.6,1320.7 1336.2,1320.7 1336.2,1327 1338,1327 1339.6,1327 1340.1,1323.1 1341.5,1323.1 1341.5,1301.6 1343.2,1301.6 1343.2,1239.4 1350.2,1239.4 1350.2,1308.4 1351.6,1308.4 1351.6,1320.4 1353.1,1320.4 1354.2,1327 1354.9,1327 1356.7,1327 1356.7,1310.1 1358.7,1310.1 1358.7,1262.7 1365.7,1262.7 1365.7,1307.4 1367.5,1307.4 1367.5,1327 1369.4,1327 1369.8,1327 1370.9,1327 1372.6,1327 1372.6,1314.3 1374.3,1314.3 1374.3,1277.2 1381.3,1277.2 1381.3,1318.3 1382.6,1318.3 1382.6,1327 1384.2,1327 1386.3,1327 1386.9,1327 1388.1,1327 1388.1,1309.8 1389.8,1309.8 1389.8,1246 1396.8,1246 1396.8,1307.5 1398.7,1307.5 1398.7,1318.6 1400.2,1318.6 1400,1327 1403.3,1327 1404.3,1327 1404.3,1310.9 1405.4,1310.9 1405.4,1264.4 1412.4,1264.4 1412.4,1312 1413.8,1312 1413.8,1327 1415.7,1327 1417,1327 1417.1,1327 1418.9,1327 1420.9,1327 1420.9,1306.6 1427.9,1306.6 1427.9,1321.6 1429.2,1321.6 1429.2,1327 1431,1327 1432.1,1327 1433.2,1327 1434.9,1327 1434.9,1319.2 1436.5,1319.2 1436.5,1274.1 1443.5,1274.1 1443.5,1322.8 1445.3,1322.8 1445.3,1327 1447.3,1327 1448.5,1327 1449.6,1327 1450.8,1327 1450.8,1321.6 1452,1321.6 1452,1276.3 1459,1276.3 1459,1320 1460.9,1320 1460.9,1327 1462.5,1327 1463.1,1327 1464.9,1327 1466,1327 1466,1320.5 1467.6,1320.5 1467.6,1316.3 1474.6,1316.3 1474.6,1321.7 1476.3,1321.7 1476.3,1327 1478.2,1327 1479.5,1327 1479.6,1327 1481.3,1327 1481.3,1317.8 1483.1,1317.8 1483.1,1272.3 1490.1,1272.3 1490.1,1318.3 1491.2,1318.3 1491.2,1327 1493,1327 1494.1,1327 1496.3,1319.1 1497.5,1319.1 1497.5,1304.7 1498.7,1304.7 1498.7,1260.5 1505.7,1260.5 1505.7,1303.3 1507.2,1303.3 1507.2,1319.2 1508.7,1319.2 1509.1,1327 1511.1,1327 1513.1,1327 1513.1,1315.3 1514.2,1315.3 1514.2,1273.2 1521.2,1273.2 1521.2,1316.1 1522.3,1316.1 1522.3,1327 1523.4,1327 1526.2,1327 1527.2,1327 1528.3,1327 1528.3,1321.8 1529.7,1321.8 1529.7,1257.8 1536.7,1257.8 1536.7,1321 1538.6,1321 1538.6,1327 1539.8,1327 1541.2,1327 1542.8,1327 1543.9,1327 1543.9,1319.3 1545.3,1319.3 1545.3,1224.9 1552.3,1224.9 1552.3,1317.3 1554.1,1317.3 1554.1,1327 1555.2,1327 1556.9,1327 1558,1327 1559.6,1327 1559.6,1322.7 1560.8,1322.7 1560.8,1237.6 1567.8,1237.6 1567.8,1314.3 1569.8,1314.3 1569.8,1327 1570.8,1327 1572.8,1327 1574.2,1327 1575.3,1327 1575.3,1321 1576.4,1321 1576.4,1276.3 1583.4,1276.3 1583.4,1324.8 1585,1324.8 1585,1327 1586.4,1327 1586.9,1327 1588.2,1327 1590,1327 1591.9,1327 1591.9,1249.1 1598.9,1249.1 1598.9,1327 1600.7,1327 1602.5,1327 1603.8,1327 1604.6,1327 1605.7,1327 1607.5,1327 1607.5,1263.6 1614.5,1263.6 1614.5,1322 1615.5,1322 1615.5,1327 1617.2,1327 1619.5,1327 1620,1327 1621.1,1327 1621.1,1322 1623,1322 1623,1327 1630,1327 1630,1317.4 1631.3,1317.4 1631.3,1327 1632.9,1327 1633.3,1327 1635.2,1327 1636.7,1327 1638.6,1327 1638.6,1282.9 1645.6,1282.9 1645.6,1327 1646.9,1327 1648,1327 1649.6,1327 1651.5,1327 1652.9,1327 1654.1,1327 1654.1,1276.3 1661.1,1276.3 1661.1,1327 1662.8,1327 1664.1,1327 1665.8,1327 1666.5,1327 1668.5,1327 1669.7,1327 1669.7,1317.6 1676.7,1317.6 1676.7,1327 1678.4,1327 1679.7,1327 1681.9,1327 1682.4,1327 1684,1327 1685.2,1327 1685.2,1270.6 1692.2,1270.6 1692.2,1327 1693.9,1327 1695.5,1327 1696,1327 1697.5,1327 1699.1,1327 1700.8,1327 1700.8,1263.6 1707.8,1263.6 1707.8,1327 1708.9,1327 1710.1,1327 1712.2,1327 1713.6,1327 1715,1327 1715,1318.1 1716.3,1318.1 1716.3,1281.1 1723.3,1281.1 1723.3,1314.9 1724.5,1314.9 1724.5,1327 1725.7,1327 1728.4,1327 1728,1327 1729.9,1327 1729.9,1326.3 1731.9,1326.3 1731.9,1260.9 1738.9,1260.9 1738.9,1327 1740.3,1327 1741.3,1327 1743.9,1327 1744.3,1327 1746,1327 1747.4,1327 1747.4,1239.4 1754.4,1239.4 1754.4,1327 1755.7,1327 1756.9,1327 1758.1,1327 1760.4,1327 1761.7,1327 1761.7,1323.9 1763,1323.9 1763,1259.6 1770,1259.6 1770,1327 1771.4,1327 1772.9,1327 1775.4,1327 1774.9,1327 1776.7,1327 1778.5,1327 1778.5,1306.6 1785.5,1306.6 1785.5,1327 1787,1327 1788.6,1327 1791.7,1327 1792.7,1327 1792.7,1322.6 1794.1,1322.6 1794.1,1253 1801.1,1253 1801.1,1315.7 1802.9,1315.7 1802.9,1327 1804.4,1327 1804.5,1327 1806.5,1327 1808.1,1327 1808.1,1325.8 1809.6,1325.8 1809.6,1248.2 1816.6,1248.2 1816.6,1327 1818,1327 1820,1327 1821.8,1327 1821.8,1327 1823.3,1327 1823.3,1321.2 1825.2,1321.2 1825.2,1296.1 1832.2,1296.1 1832.2,1327 1833.7,1327 1835.4,1327 1837.1,1327 1837.8,1327 1839,1327 1839,1313.8 1840.7,1313.8 1840.7,1327 1847.7,1327 1847.7,1322.2 1849,1322.2 1849,1327 1851,1327 1852.9,1327 1852.7,1327 1854.5,1327 1856.2,1327 1856.2,1300.9 1863.2,1300.9 1863.2,1327 1864.5,1327 1865.8,1327 1867.8,1327 1869.5,1327 1870.5,1327 1871.8,1327 1878.8,1327 1880,1327 1881.3,1327 1883.4,1327 1884.1,1327 1886,1327 1886,1324.6 1887.3,1324.6 1887.3,1311.4 1894.3,1311.4 1894.3,1320.1 1896.3,1320.1 1896.3,1327 1897.8,1327 1897.5,1327 1899.3,1327 1901.2,1327 1902.9,1327 1902.9,1281.1 1909.9,1281.1 1909.9,1327 1911.6,1327 1912.7,1327 1914.5,1327 1915.4,1327 1916.7,1327 1918.4,1327 1918.4,1293.4 1925.4,1293.4 1925.4,1327 1927.4,1327 1929,1327 1930.9,1327 1931.6,1327 1933,1327 1934,1327 1934,1306.6 1941,1306.6 1941,1327 1942.9,1327 1944.5,1327 1944.1,1327 1946.8,1327 1947.9,1327 1949.5,1327 1949.5,1286.8 1956.5,1286.8 1956.5,1327 1958.4,1327 1959.4,1327 1959.6,1327 1962.8,1327 1964,1327 1964,1324.1 1965.1,1324.1 1965.1,1312.7 1972.1,1312.7 1972.1,1327 1973.7,1327 1975.4,1327 1975.7,1327 1977.6,1327 1979,1327 1980.6,1327 1987.6,1327 1988.7,1327 1989.9,1327 1991.2,1327 1993.7,1327 1994.9,1327 1996.2,1327 1996.2,1311 2003.2,1311 2003.2,1327 2004.2,1327 2006.1,1327 2006.9,1327 2008.5,1327 2010.1,1327 2011.7,1327 2011.7,1306.6 2018.7,1306.6 2018.7,1325.5 2020.5,1325.5 2020.5,1327 2021.8,1327 2022.2,1327 2024.7,1327 2026.2,1327 2026.2,1324.5 2027.3,1324.5 2027.3,1327 2034.3,1327 2034.3,1324.4 2035.8,1324.4 2035.8,1327 2037.5,1327 2039.6,1327 2039.7,1327 2041.5,1327 2042.8,1327 2042.8,1312.7 2049.8,1312.7 2049.8,1326.9 2051.3,1326.9 2051.3,1327 2052.9,1327 2055.2,1327 2055.4,1327 2056.8,1327 2058.4,1327 2058.4,1297.4 2065.4,1297.4 2065.4,1327 2066.5,1327 2068,1327 2069.9,1327 2071,1327 2072.3,1327 2072.3,1324 2073.9,1324 2073.9,1327 2080.9,1327 2082.1,1327 2083.3,1327 2085,1327 2086.4,1327 2088.1,1327 2088.1,1321.1 2089.5,1321.1 2089.5,1311 2096.5,1311 2096.5,1325.6 2098,1325.6 2098,1327 2099.5,1327 2101.7,1327 2102.7,1327 2103.7,1327 2103.7,1325 2105,1325 2105,1286 2112,1286 2112,1327 2113.9,1327 2115.7,1327 2115.2,1327 2117.5,1327 2119.3,1327 2119.3,1324 2120.6,1324 2120.6,1309.7 2127.6,1309.7 2127.6,1326 2129.2,1326 2129.2,1327 2131.1,1327 2131,1327 2132.6,1327 2134.3,1327 2136.1,1327 2143.1,1327Z" fill="#0072BF"/>
<path d="M289.4,1168.2 305,1159.5 320.5,1228.9 336.1,1194.2 351.6,1160.3 367.2,1199.9 382.7,1208.7 398.3,1163.9 413.8,1186.3 429.4,1244.7 444.9,1179.7 460.5,1182.7 476,1270.6 491.6,1190.6 507.1,1170.4 522.7,1227.5 538.2,1205.1 553.8,1166.1 569.3,1204.3 584.8,1216.6 600.4,1175.7 615.9,1192 631.5,1239.8 647,1195.9 662.6,1194.2 678.1,1257 693.7,1219.2 709.2,1206.5 724.8,1245.5 740.3,1228.9 755.9,1198.1 771.4,1220.5 787,1228.9 802.5,1195 818.1,1201.6 833.6,1230.2 849.2,1213.5 864.7,1210.4 880.3,1251.3 895.8,1244.7 911.3,1228 926.9,1257.8 942.4,1238.5 958,1222.3 973.5,1233.7 989.1,1224.9 1004.6,1212.6 1020.2,1205.1 1035.7,1212.6 1051.3,1218.3 1066.8,1208.7 1082.4,1215.7 1097.9,1216.6 1113.5,1231.1 1129,1240.3 1144.6,1217.4 1160.1,1235 1175.7,1256.1 1191.2,1229.7 1206.8,1228.4 1222.3,1253 1237.8,1246.4 1253.4,1244.2 1268.9,1257.8 1284.5,1247.3 1300,1248.2 1315.6,1266.2 1331.1,1253.9 1346.7,1239.4 1362.2,1262.7 1377.8,1277.2 1393.3,1246 1408.9,1264.4 1424.4,1306.6 1440,1274.1 1455.5,1276.3 1471.1,1316.3 1486.6,1272.3 1502.2,1260.5 1517.7,1273.2 1533.2,1257.8 1548.8,1224.9 1564.3,1237.6 1579.9,1276.3 1595.4,1249.1 1611,1263.6 1626.5,1342.2 1642.1,1282.9 1657.6,1276.3 1673.2,1317.6 1688.7,1270.6 1704.3,1263.6 1719.8,1281.1 1735.4,1260.9 1750.9,1239.4 1766.5,1259.6 1782,1306.6 1797.6,1253 1813.1,1248.2 1828.7,1296.1 1844.2,1340 1859.7,1300.9 1875.3,1344.4 1890.8,1311.4 1906.4,1281.1 1921.9,1293.4 1937.5,1306.6 1953,1286.8 1968.6,1312.7 1984.1,1340 1999.7,1311 2015.2,1306.6 2030.8,1344.4 2046.3,1312.7 2061.9,1297.4 2077.4,1340 2093,1311 2108.5,1286 2124.1,1309.7 2139.6,1340" fill="none" stroke="#F8530E" stroke-width="6.5" stroke-linejoin="round" stroke-linecap="round"/>
<path d="M289.4,1005.7 305,1015.8 320.5,1099.7 336.1,1076.5 351.6,1052.7 367.2,1104.1 382.7,1112 398.3,1074.3 413.8,1099.7 429.4,1160.3 444.9,1095.3 460.5,1101.9 476,1195 491.6,1113.3 507.1,1097.5 522.7,1159.5 538.2,1135.7 553.8,1105.4 569.3,1144.5 584.8,1159.9 600.4,1121.3 615.9,1142.3 631.5,1193.3 647,1142.8 662.6,1139.7 678.1,1202.1 693.7,1158.1 709.2,1137.5 724.8,1174.8 740.3,1161.2 755.9,1136.6 771.4,1158.1 787,1172.6 802.5,1145.4 818.1,1156.4 833.6,1190.2 849.2,1166.9 864.7,1164.7 880.3,1205.6 895.8,1190.6 911.3,1166.5 926.9,1199 942.4,1183.6 958,1168.2 973.5,1181 989.1,1177 1004.6,1169.6 1020.2,1171.3 1035.7,1181.9 1051.3,1187.6 1066.8,1182.7 1082.4,1194.6 1097.9,1195.5 1113.5,1206 1129,1210 1144.6,1193.3 1160.1,1207.8 1175.7,1224 1191.2,1190.6 1206.8,1192.4 1222.3,1217.4 1237.8,1195.5 1253.4,1193.3 1268.9,1209.5 1284.5,1202.9 1300,1198.1 1315.6,1210.9 1331.1,1207.8 1346.7,1191.5 1362.2,1214.4 1377.8,1228.9 1393.3,1202.1 1408.9,1222.3 1424.4,1260.9 1440,1223.1 1455.5,1227.1 1471.1,1271 1486.6,1225.3 1502.2,1207.8 1517.7,1226.2 1533.2,1209.5 1548.8,1180.1 1564.3,1196.4 1579.9,1235.9 1595.4,1205.1 1611,1220.1 1626.5,1295.2 1642.1,1237.6 1657.6,1232.8 1673.2,1276.3 1688.7,1235 1704.3,1228.9 1719.8,1241.6 1735.4,1230.6 1750.9,1203.8 1766.5,1222.3 1782,1271.5 1797.6,1225.3 1813.1,1220.5 1828.7,1267.5 1844.2,1295.6 1859.7,1253.9 1875.3,1301.3 1890.8,1274.1 1906.4,1260.5 1921.9,1272.3 1937.5,1299.1 1953,1273.2 1968.6,1296.5 1984.1,1324.6 1999.7,1275.4 2015.2,1263.6 2030.8,1324.6 2046.3,1276.3 2061.9,1264.4 2077.4,1300.9 2093,1284.6 2108.5,1264.4 2124.1,1298.3 2139.6,1325" fill="none" stroke="#00FF00" stroke-width="6.5" stroke-linejoin="round" stroke-linecap="round"/>
</g>
<text x="254" y="901.9" text-anchor="end" class="tk">0</text>
<text x="254" y="989.7" text-anchor="end" class="tk"><tspan dy="3.5">−</tspan><tspan dx="-5.2" dy="-3.5">20</tspan></text>
<text x="254" y="1077.6" text-anchor="end" class="tk"><tspan dy="3.5">−</tspan><tspan dx="-5.2" dy="-3.5">40</tspan></text>
<text x="254" y="1165.4" text-anchor="end" class="tk"><tspan dy="3.5">−</tspan><tspan dx="-5.2" dy="-3.5">60</tspan></text>
<text x="254" y="1253.3" text-anchor="end" class="tk"><tspan dy="3.5">−</tspan><tspan dx="-5.2" dy="-3.5">80</tspan></text>
<text x="254" y="1341.1" text-anchor="end" class="tk"><tspan dy="3.5">−</tspan><tspan dx="-6.5" dy="-3.5">100</tspan></text>
<text x="273.9" y="1403.2" text-anchor="middle" class="tk">0</text>
<text x="584.8" y="1403.2" text-anchor="middle" class="tk">2</text>
<text x="895.8" y="1403.2" text-anchor="middle" class="tk">4</text>
<text x="1206.8" y="1403.2" text-anchor="middle" class="tk">6</text>
<text x="1517.7" y="1403.2" text-anchor="middle" class="tk">8</text>
<text x="1828.7" y="1403.2" text-anchor="middle" class="tk">10</text>
<text x="2139.6" y="1403.2" text-anchor="middle" class="tk">12</text>
<rect x="1449.8" y="887" width="687.9" height="256.2" fill="#fff" stroke="#262626" stroke-width="4.5"/>
<path d="M1460,932H1568" stroke="#0072BF" stroke-width="6.5"/>
<path d="M1460,1015.4H1568" stroke="#F8530E" stroke-width="6.5"/>
<path d="M1460,1099H1568" stroke="#00FF00" stroke-width="6.5"/>
<text transform="matrix(1.0703,0,0,1,1571.1,946)" class="lg">Original Spectrum</text>
<text transform="matrix(1.0617,0,0,1,1575.5,1027.8)" class="lg">Extracted Harmonics</text>
<text transform="matrix(1.0749,0,0,1,1571.3,1110.8)" class="lg">Corrected Harmonics</text>
<text transform="matrix(1.0307,0,0,1,1019.9,843.5)" class="ti">Load Signal</text>
<text transform="matrix(1.0514,0,0,1,946.7,1500.6)" class="xl">Frequency/ GHz</text>
<text transform="matrix(0,-1.0562,1,0,81.9,1338.4)" class="yl">Amplitude/ dB</text>
</g>
</svg>
</body></html>
